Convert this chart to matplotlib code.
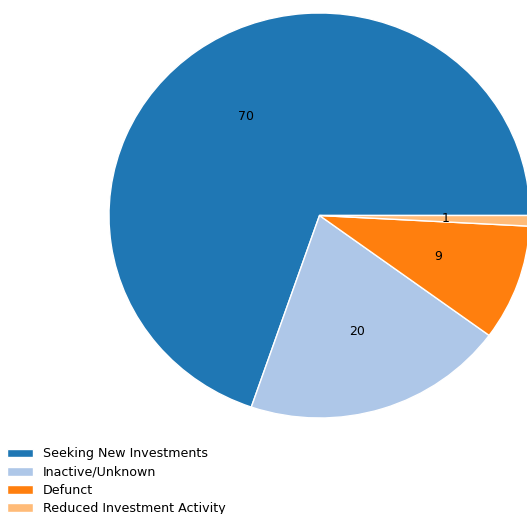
import matplotlib.pyplot as plt

labels = ['Seeking New Investments', 'Inactive/Unknown', 'Defunct', 'Reduced Investment Activity']
counts = [83, 24, 11, 1]
colors = ['#1f77b4', '#aec7e8', '#ff7f0e', '#ffbb78']

W, H = 527, 514
fig = plt.figure(figsize=(W / 100, H / 100), dpi=100)
# pie box in pixels: x 109..530, y 13..419 (slightly stretched horizontally)
ax = fig.add_axes([109 / W, (H - 418) / H, 421 / W, 405 / H])

wedges, texts, autotexts = ax.pie(counts, colors=colors, startangle=0,
                                  autopct=lambda p: '%d' % round(p),
                                  pctdistance=0.6,
                                  wedgeprops=dict(edgecolor='white', linewidth=1),
                                  textprops=dict(fontsize=9))
ax.set_aspect('auto')
ax.set_xlim(-1, 1)
ax.set_ylim(-1, 1)
for w in wedges:
    w.set_clip_on(False)

fig.legend(wedges, labels, loc='upper left', bbox_to_anchor=(-4 / W, 1 - 436 / H),
           frameon=False, fontsize=9.1, labelspacing=0.42)

fig.savefig('out.png', dpi=100)
